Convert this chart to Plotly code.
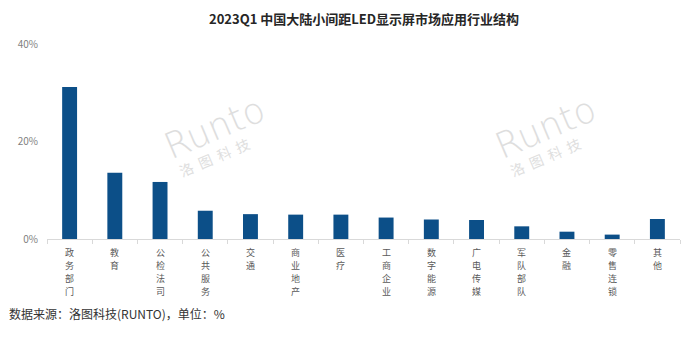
import plotly.graph_objects as go

categories = ["政务部门", "教育", "公检法司", "公共服务", "交通", "商业地产", "医疗",
              "工商企业", "数字能源", "广电传媒", "军队部队", "金融", "零售连锁", "其他"]
shares = [31.2, 13.6, 11.7, 5.8, 5.1, 5.0, 5.0, 4.4, 4.0, 3.9, 2.6, 1.5, 0.9, 4.1]
y_ticks = [0, 20, 40]
y_tick_labels = ["0%", "20%", "40%"]
title_text = "2023Q1 中国大陆小间距LED显示屏市场应用行业结构"
source_text = "数据来源：洛图科技(RUNTO)，单位：%"
watermark_logo = "Runto"
watermark_cn = "洛  图  科  技"

font_family = "Microsoft YaHei, Noto Sans CJK SC, sans-serif"

fig = go.Figure()
fig.add_trace(go.Bar(
    x=categories, y=shares,
    marker=dict(color="#0c4f88", line=dict(width=0)),
    width=0.33,
    hoverinfo="x+y",
))

annotations = [
    dict(text="<b>" + title_text + "</b>", xref="paper", yref="paper",
         x=0.5, y=1, yanchor="middle", xanchor="center",
         yshift=44 - 18, showarrow=False,
         font=dict(size=13, color="#262626", family=font_family)),
    dict(text=source_text, xref="paper", yref="paper",
         x=0, xshift=-40, y=0, yshift=-(313 - 239), xanchor="left", yanchor="middle",
         showarrow=False, font=dict(size=12, color="#333333", family=font_family)),
]

# vertical category labels, one character per row
pitch = 13.1
for cat in categories:
    for j, ch in enumerate(cat):
        annotations.append(dict(
            text=ch, x=cat, xref="x", y=0, yref="y",
            xanchor="center", yanchor="middle",
            yshift=-(13 + pitch * j), showarrow=False,
            font=dict(size=9, color="#595959", family=font_family)))

# watermarks
for wx in [0.265, 0.787]:
    annotations.append(dict(text=watermark_logo, xref="paper", yref="paper",
                            x=wx, y=0.57, xanchor="center", yanchor="middle",
                            showarrow=False, textangle=-23,
                            font=dict(size=36, color="#dedede",
                                      family="DejaVu Sans, Verdana", weight=300)))
    annotations.append(dict(text=watermark_cn, xref="paper", yref="paper",
                            x=wx, y=0.42, xanchor="center", yanchor="middle",
                            showarrow=False, textangle=-23,
                            font=dict(size=14, color="#dedede", family=font_family)))

fig.update_layout(
    width=685, height=340,
    margin=dict(l=47, r=5, t=44, b=101),
    paper_bgcolor="white", plot_bgcolor="white",
    showlegend=False,
    font=dict(family=font_family, color="#595959"),
    xaxis=dict(
        tickmode="array", tickvals=categories, showticklabels=False,
        showline=True, linecolor="#d9d9d9", linewidth=1,
        ticks="outside", tickson="boundaries", ticklen=4, tickcolor="#d9d9d9",
        showgrid=False, zeroline=False,
    ),
    yaxis=dict(
        range=[0, 40],
        tickmode="array", tickvals=y_ticks, ticktext=y_tick_labels,
        tickfont=dict(size=10, color="#7f7f7f"),
        showgrid=False, zeroline=False, showline=False,
        ticks="", ticklabelstandoff=8,
    ),
    annotations=annotations,
)

fig.write_html("out.html")
